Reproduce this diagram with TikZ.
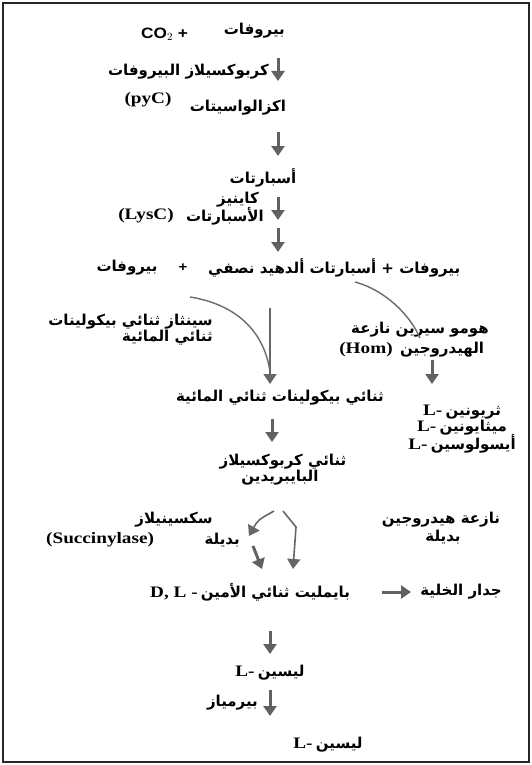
\documentclass[tikz,border=0pt]{standalone}
\usepackage{fontspec}
\usepackage{tikz}
\usetikzlibrary{arrows.meta}
\TeXXeTstate=1
\newfontfamily\arabicfont[Script=Arabic]{DejaVu Sans}
\newfontfamily\latinfont[FakeStretch=1.2]{Liberation Serif}
\newfontfamily\cofont[FakeStretch=1.15]{Liberation Sans}
\newcommand\artxt[1]{{\arabicfont\bfseries\fontsize{15}{17}\selectfont\beginR #1\endR}}
\newcommand\lattxt[1]{{\latinfont\bfseries\fontsize{16}{18}\selectfont #1}}

\begin{document}
\begin{tikzpicture}[x=1pt, y=-1pt,
    txt/.style={inner sep=0pt},
    flow/.style={draw=black!62, line width=3pt, -{Triangle[width=13pt,length=10pt]}},
    thinflow/.style={draw=black!60, line width=1.6pt, -{Triangle[width=13pt,length=10pt]}},
    curveline/.style={draw=black!58, line width=1.4pt}]
  \useasboundingbox (0,0) rectangle (532,765);
  \draw[black!85, line width=2.6pt] (3,3) rectangle (529,762);
  % first steps
  \node[txt, anchor=west] (co2) at (141,34) {\cofont\bfseries\fontsize{15}{17}\selectfont CO$_2$ +};
  \node[txt, anchor=east] (pyr) at (285,31) {\artxt{بيروفات}};
  \node[txt, anchor=east] (pyc) at (269,72) {\artxt{كربوكسيلاز البيروفات}};
  \node[txt] (pycab) at (148,100) {\lattxt{(pyC)}};
  \node[txt] (oxa) at (238,108) {\artxt{اكزالواسيتات}};
  \node[txt] (asp) at (263,178) {\artxt{أسبارتات}};
  \node[txt, anchor=east] (kin) at (259,200) {\artxt{كاينيز}};
  \node[txt, anchor=east] (kinb) at (264,216) {\artxt{الأسبارتات}};
  \node[txt] (lysc) at (146,216) {\lattxt{(LysC)}};
  \node[txt] (pyrb) at (127,268) {\artxt{بيروفات}};
  \node[txt] (plus) at (183,268) {\cofont\bfseries\fontsize{13}{15}\selectfont +};
  \node[txt, anchor=west] (asa) at (208,268) {\artxt{بيروفات + أسبارتات ألدهيد نصفي}};
  \foreach \n/\ya/\yb in {1/58/81, 2/132/156, 3/197/220, 4/228/252}
    \draw[flow] (278,\ya) coordinate (s\n) -- (278,\yb) coordinate (e\n);
  % branch
  \node[txt, anchor=east] (syn) at (213,322) {\artxt{سينثاز ثنائي بيكولينات}};
  \node[txt, anchor=east] (synb) at (213,338) {\artxt{ثنائي المائية}};
  \node[txt] (hom) at (420,330) {\artxt{هومو سيرين نازعة}};
  \node[txt] (homab) at (366,350) {\lattxt{(Hom)}};
  \node[txt, anchor=west] (homb) at (400,350) {\artxt{الهيدروجين}};
  \coordinate (c1) at (190,297);
  \coordinate (c2) at (355,282);
  \coordinate (c3) at (420,338);
  \draw[curveline] (c1) .. controls (240,305) and (265,335) .. (270,372);
  \draw[curveline] (c2) .. controls (385,290) and (410,315) .. (c3);
  \draw[thinflow] (270,308) coordinate (s5) -- (270,384) coordinate (e5);
  \draw[flow] (432,360) coordinate (s6) -- (432,384) coordinate (e6);
  \node[txt] (dhdp) at (280,398) {\artxt{ثنائي بيكولينات ثنائي المائية}};
  \node[txt] (thr) at (462,412) {\lattxt{L-}\ \artxt{ثريونين}};
  \node[txt] (met) at (462,428) {\lattxt{L-}\ \artxt{ميثايونين}};
  \node[txt] (ile) at (462,444) {\lattxt{L-}\ \artxt{أيسولوسين}};
  \draw[flow] (272,419) coordinate (s7) -- (272,442) coordinate (e7);
  \node[txt] (dhr) at (283,462) {\artxt{ثنائي كربوكسيلاز}};
  \node[txt] (dhrb) at (280,478) {\artxt{البايبريدين}};
  % succinylase route
  \node[txt] (suc) at (174,520) {\artxt{سكسينيلاز}};
  \node[txt, anchor=west] (sucab) at (46,540) {\lattxt{(Succinylase)}};
  \node[txt, anchor=east] (sucb) at (240,540) {\artxt{بديلة}};
  \node[txt] (ddh) at (441,520) {\artxt{نازعة هيدروجين}};
  \node[txt] (ddhb) at (443,537) {\artxt{بديلة}};
  \draw[thinflow] (274,511) .. controls (258,520) .. (249,536);
  \draw[flow] (253,546) coordinate (s8) -- (262,569) coordinate (e8);
  \draw[thinflow] (283,511) -- (296,527) -- (293,569);
  \node[txt, anchor=west] (dap) at (150,592) {\lattxt{D, L -}\ \artxt{بايمليت ثنائي الأمين}};
  \node[txt, anchor=east] (wall) at (502,592) {\artxt{جدار الخلية}};
  \draw[flow] (382,592) coordinate (s9) -- (411,592) coordinate (e9);
  % lysine
  \draw[flow] (270,631) coordinate (s10) -- (270,654) coordinate (e10);
  \node[txt] (lys) at (270,673) {\lattxt{L-}\ \artxt{ليسين}};
  \draw[flow] (270,690) coordinate (s11) -- (270,716) coordinate (e11);
  \node[txt, anchor=east] (perm) at (258,703) {\artxt{بيرمياز}};
  \node[txt] (lysb) at (328,745) {\lattxt{L-}\ \artxt{ليسين}};
\end{tikzpicture}
\end{document}
